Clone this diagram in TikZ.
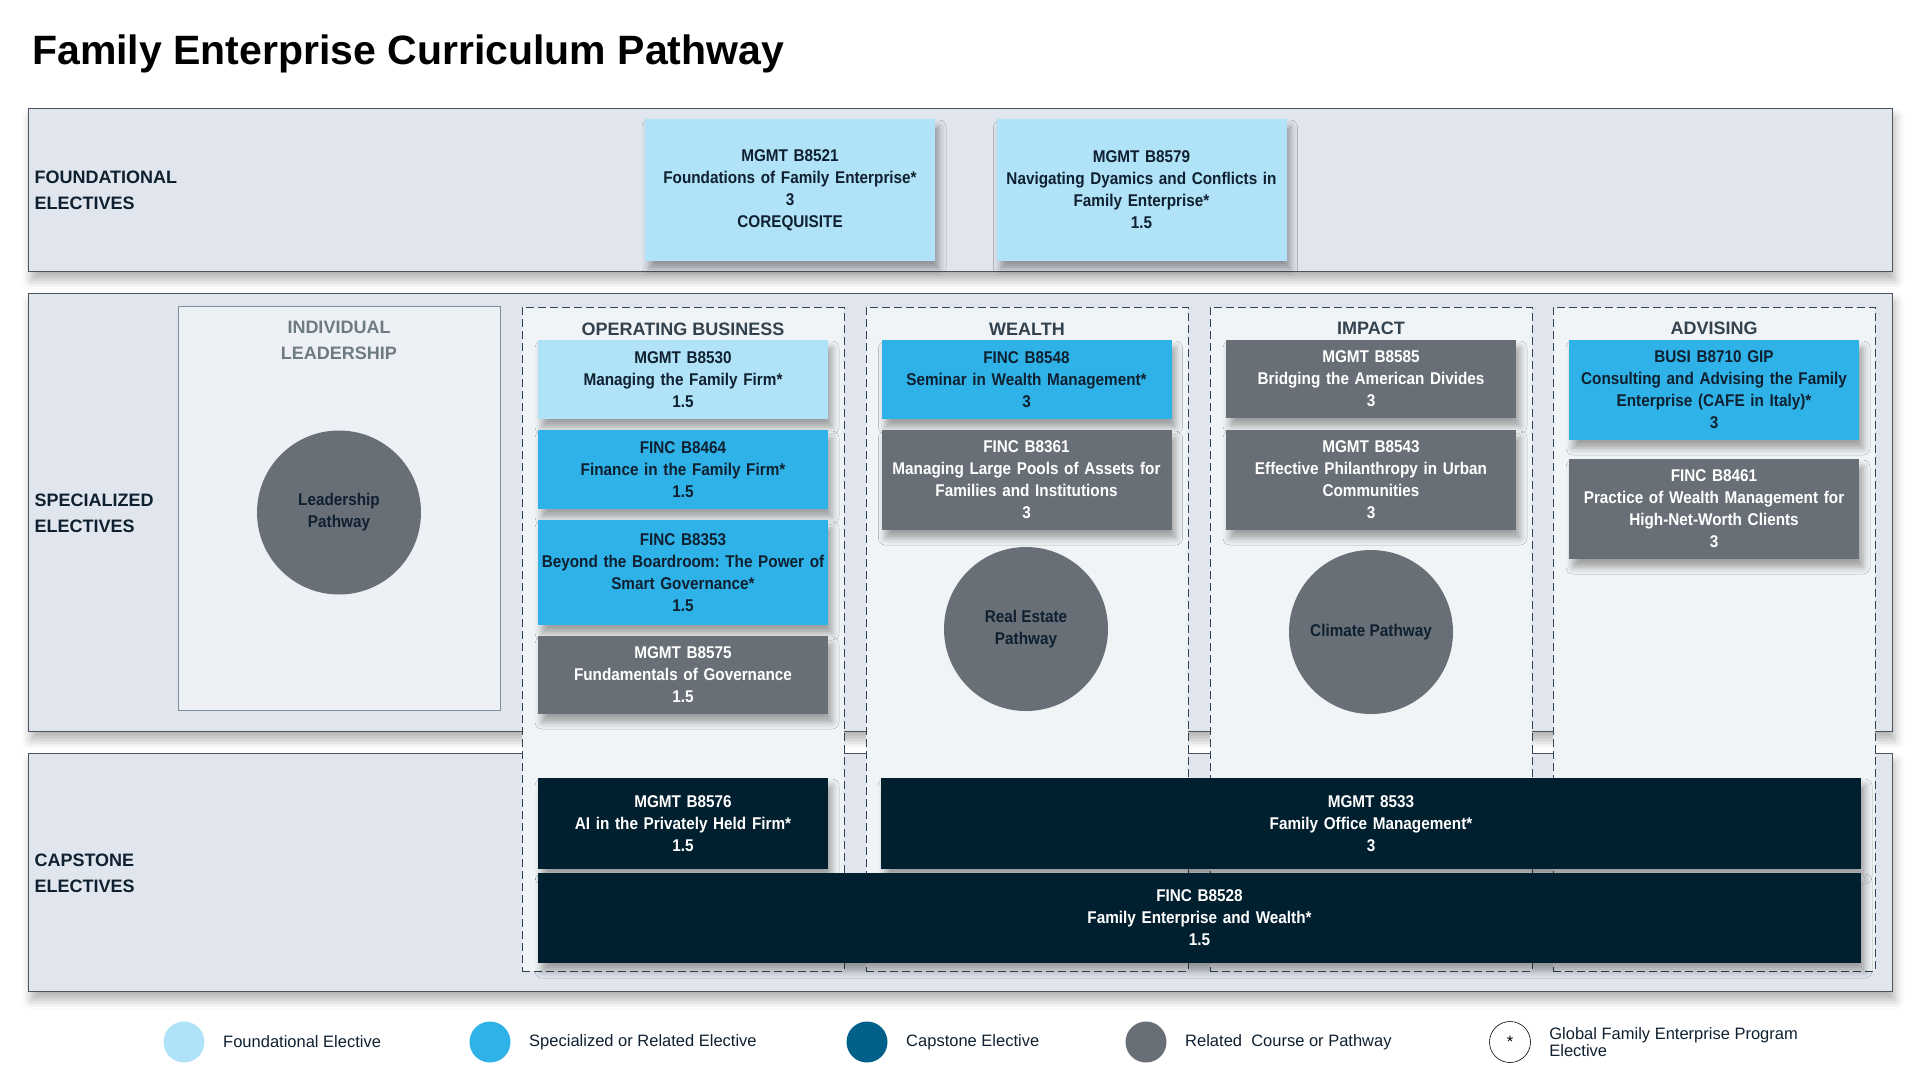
\documentclass[tikz,border=0pt]{standalone}
\usepackage{fontspec}
\setmainfont{Liberation Sans}[FakeStretch=0.9]
\newfontfamily\plainfont{Liberation Sans}
\usepackage{tikz}
\usetikzlibrary{positioning,shadows.blur}
\usepackage{xcolor}

\definecolor{bandfill}{HTML}{E1E6EE}
\definecolor{bandline}{HTML}{4C535A}
\definecolor{colfill}{HTML}{F1F4F6}
\definecolor{colline}{HTML}{2E4452}
\definecolor{leadfill}{HTML}{EDF0F4}
\definecolor{leadline}{HTML}{7E919C}
\definecolor{leadtext}{HTML}{6E7B85}
\definecolor{cfound}{HTML}{B0E3F8}
\definecolor{cspec}{HTML}{2EB2E8}
\definecolor{ccap}{HTML}{00202F}
\definecolor{ccapleg}{HTML}{00608A}
\definecolor{crel}{HTML}{686F76}
\definecolor{cnavy}{HTML}{0F2030}

\newcommand{\cardfont}{\fontsize{17}{22}\selectfont\bfseries}
\newcommand{\headfont}{\plainfont\fontsize{18}{26}\selectfont\bfseries}
\newcommand{\legfont}{\plainfont\fontsize{16.5}{17}\selectfont}
\hyphenpenalty=10000
\exhyphenpenalty=10000
\frenchspacing

\begin{document}
\begin{tikzpicture}[x=1pt, y=-1pt,
  band/.style={draw=bandline, fill=bandfill, line width=0.8pt, inner sep=0pt,
    minimum width=1864pt, blur shadow={shadow xshift=3pt, shadow yshift=-9pt,
    shadow blur radius=9pt, shadow opacity=30}},
  bandlabel/.style={anchor=west, align=left, font=\headfont, text=cnavy},
  colbox/.style={draw=colline, fill=colfill, line width=1pt,
    dash pattern=on 8pt off 4pt, inner sep=0pt, minimum width=322pt,
    minimum height=664pt},
  colhead/.style={font=\headfont, text=cnavy!85},
  card/.style={rectangle, inner sep=1pt, minimum width=290pt, text width=288pt,
    align=center, font=\cardfont, blur shadow={shadow xshift=4pt,
    shadow yshift=-8pt, shadow blur radius=7pt, shadow opacity=35}},
  found/.style={card, fill=cfound, text=cnavy},
  spec/.style={card, fill=cspec, text=cnavy},
  relat/.style={card, fill=crel, text=white},
  capst/.style={card, fill=ccap, text=white},
  pathway/.style={circle, fill=crel, minimum size=164pt, inner sep=0pt,
    align=center, font=\cardfont, text=cnavy},
  legdot/.style={circle, minimum size=41pt, inner sep=0pt},
  legtext/.style={font=\legfont, text=cnavy, align=left}
]
\useasboundingbox (0,0) rectangle (1920,1080);

% title
\node[anchor=base west, inner sep=0pt, font=\plainfont\fontsize{41}{46}\selectfont\bfseries,
  text=black] (title) at (32,64) {Family Enterprise Curriculum Pathway};

% bands
\node[band, minimum height=163pt] (foundband) at (960,189.5) {};
\node[band, minimum height=438pt] (specband) at (960,512) {};
\node[band, minimum height=238pt] (capband) at (960,872) {};

\node[bandlabel] (foundlabel) at (31,190) {FOUNDATIONAL\\ELECTIVES};
\node[bandlabel] (speclabel) at (31,513) {SPECIALIZED\\ELECTIVES};
\node[bandlabel] (caplabel) at (31,873) {CAPSTONE\\ELECTIVES};

% foundational courses
\node[found, minimum height=142pt] (b8521) at (790,190)
  {MGMT B8521\\Foundations of Family Enterprise*\\3\\COREQUISITE};
\node[found, minimum height=142pt] (b8579) at (1141.5,190)
  {MGMT B8579\\Navigating Dyamics and Conflicts in\\Family Enterprise*\\1.5};

% individual leadership
\node[draw=leadline, fill=leadfill, line width=1pt, minimum width=322pt,
  minimum height=404pt, inner sep=0pt] (leadbox) at (339.5,508) {};
\node[font=\headfont, text=leadtext, align=center] (leadhead) at (339,340)
  {INDIVIDUAL\\LEADERSHIP};
\node[pathway] (leadpath) at (339,512.5) {Leadership\\Pathway};

% columns
\node[colbox] (opscol) at (683,639) {};
\node[colbox] (wealthcol) at (1027,639) {};
\node[colbox] (impactcol) at (1371,639) {};
\node[colbox] (advcol) at (1714,639) {};

\node[colhead] (opshead) at (683,329) {OPERATING BUSINESS};
\node[colhead] (wealthhead) at (1027,329) {WEALTH};
\node[colhead] (impacthead) at (1371,328) {IMPACT};
\node[colhead] (advhead) at (1714,328) {ADVISING};

% operating business
\node[found, minimum height=79pt] (b8530) at (683,379.5)
  {MGMT B8530\\Managing the Family Firm*\\1.5};
\node[spec, minimum height=79pt] (b8464) at (683,469.5)
  {FINC B8464\\Finance in the Family Firm*\\1.5};
\node[spec, minimum height=105pt] (b8353) at (683,572.5)
  {FINC B8353\\Beyond the Boardroom: The Power of\\Smart Governance*\\1.5};
\node[relat, minimum height=78pt] (b8575) at (683,675)
  {MGMT B8575\\Fundamentals of Governance\\1.5};

% wealth
\node[spec, minimum height=79pt] (b8548) at (1026.5,379.5)
  {FINC B8548\\Seminar in Wealth Management*\\3};
\node[relat, minimum height=100pt] (b8361) at (1026.5,480)
  {FINC B8361\\Managing Large Pools of Assets for\\Families and Institutions\\3};
\node[pathway] (realestate) at (1026,629) {Real Estate\\Pathway};

% impact
\node[relat, minimum height=78pt] (b8585) at (1371,379)
  {MGMT B8585\\Bridging the American Divides\\3};
\node[relat, minimum height=100pt] (b8543) at (1371,480)
  {MGMT B8543\\Effective Philanthropy in Urban\\Communities\\3};
\node[pathway] (climate) at (1371,632) {Climate Pathway};

% advising
\node[spec, minimum height=100pt] (b8710) at (1714,390)
  {BUSI B8710 GIP\\Consulting and Advising the Family\\Enterprise (CAFE in Italy)*\\3};
\node[relat, minimum height=100pt] (b8461) at (1714,509)
  {FINC B8461\\Practice of Wealth Management for\\High-Net-Worth Clients\\3};

% capstone
\node[capst, minimum height=91pt] (b8576) at (683,823.5)
  {MGMT B8576\\AI in the Privately Held Firm*\\1.5};
\node[capst, minimum width=980pt, text width=970pt, minimum height=91pt] (m8533)
  at (1371,823.5) {MGMT 8533\\Family Office Management*\\3};
\node[capst, minimum width=1323pt, text width=1313pt, minimum height=90pt] (b8528)
  at (1199.5,918) {FINC B8528\\Family Enterprise and Wealth*\\1.5};

% legend
\node[legdot, fill=cfound] (legfound) at (184,1042) {};
\node[legtext, right=15pt of legfound] (legfoundtext) {Foundational Elective};
\node[legdot, fill=cspec] (legspec) at (490,1042) {};
\node[legtext, right=15pt of legspec] (legspectext) {Specialized or Related Elective};
\node[legdot, fill=ccapleg] (legcap) at (867,1042) {};
\node[legtext, right=15pt of legcap] (legcaptext) {Capstone Elective};
\node[legdot, fill=crel] (legrel) at (1146,1042) {};
\node[legtext, right=15pt of legrel] (legreltext) {Related\ \ Course or Pathway};
\node[legdot, draw=black, fill=white, line width=0.6pt, font=\legfont] (legglobal)
  at (1510,1042) {*};
\node[legtext, right=15pt of legglobal] (legglobaltext)
  {Global Family Enterprise Program\\Elective};
\end{tikzpicture}
\end{document}
